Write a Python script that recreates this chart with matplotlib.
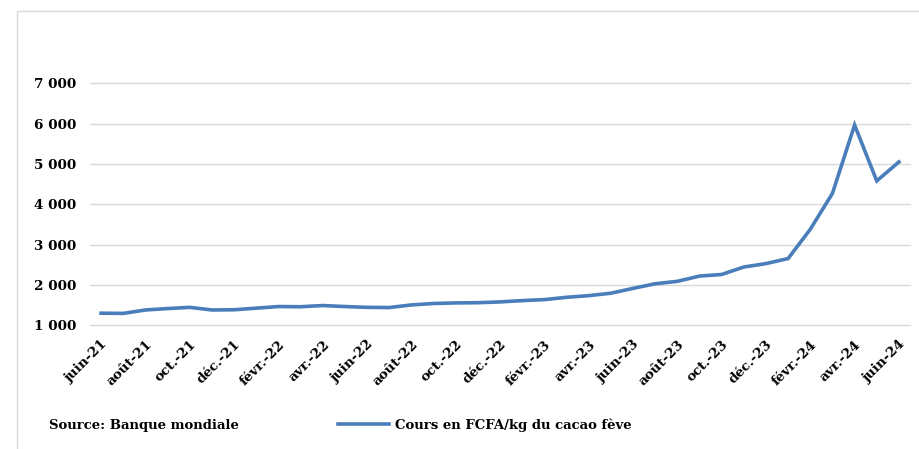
import matplotlib
matplotlib.use("Agg")
import matplotlib.pyplot as plt
from matplotlib.patches import Rectangle
from matplotlib.ticker import FuncFormatter, FixedLocator

# ── Data ──────────────────────────────────────────────────────────────────────
months = [
    "juin-21", "juil.-21", "août-21", "sept.-21", "oct.-21", "nov.-21", "déc.-21",
    "janv.-22", "févr.-22", "mars-22", "avr.-22", "mai-22", "juin-22", "juil.-22",
    "août-22", "sept.-22", "oct.-22", "nov.-22", "déc.-22", "janv.-23", "févr.-23",
    "mars-23", "avr.-23", "mai-23", "juin-23", "juil.-23", "août-23", "sept.-23",
    "oct.-23", "nov.-23", "déc.-23", "janv.-24", "févr.-24", "mars-24", "avr.-24",
    "mai-24", "juin-24",
]
cours = [
    1300, 1295, 1380, 1415, 1445, 1380, 1385,
    1425, 1465, 1460, 1490, 1465, 1445, 1440,
    1505, 1540, 1555, 1560, 1580, 1612, 1637,
    1694, 1735, 1795, 1915, 2030, 2090, 2220,
    2260, 2445, 2530, 2655, 3380, 4270, 5965,
    4580, 5050,
]
y_ticks = [1000, 2000, 3000, 4000, 5000, 6000, 7000]

SERIES_LABEL = "Cours en FCFA/kg du cacao fève"
SOURCE = "Source: Banque mondiale"

# ── Style ─────────────────────────────────────────────────────────────────────
BLUE = "#4a7ebb"
GRID = "#d9d9d9"
W, H = 919, 449
plt.rcParams.update({
    "font.family": "DejaVu Serif",
    "font.weight": "bold",
    "font.size": 9.7,
})

fig = plt.figure(figsize=(W / 100, H / 100), dpi=100)

# outer chart frame (light grey, runs off the right/bottom edges)
fig.patches.append(Rectangle((17 / W, -0.05), 1.1, 1 - 11 / H + 0.05,
                             transform=fig.transFigure, fill=False,
                             edgecolor=GRID, linewidth=1.0))

left, right = 90 / W, 910 / W
bottom, top = 1 - 325.3 / H, 1 - 83.3 / H
ax = fig.add_axes([left, bottom, right - left, top - bottom])

x = list(range(len(months)))
ax.plot(x, cours, color=BLUE, linewidth=2.6, solid_joinstyle="miter",
        label=SERIES_LABEL, zorder=3)

ax.set_xlim(-0.5, len(months) - 0.5)
ax.set_ylim(y_ticks[0], y_ticks[-1])
ax.yaxis.set_major_locator(FixedLocator(y_ticks))
ax.yaxis.set_major_formatter(FuncFormatter(lambda v, _: f"{int(v):,}".replace(",", " ")))
ax.grid(axis="y", color=GRID, linewidth=1.0)
ax.set_axisbelow(True)
for gl in ax.get_ygridlines():
    gl.set_clip_on(False)
for s in ax.spines.values():
    s.set_visible(False)

ax.set_xticks(x[::2])
ax.set_xticklabels(months[::2], rotation=45, ha="right", rotation_mode="anchor")
ax.tick_params(axis="x", length=0, pad=9)
ax.tick_params(axis="y", length=0, pad=10)

fig.text(49 / W, 1 - 425 / H, SOURCE, ha="left", va="center",
         fontsize=9.5, fontweight="bold")
fig.legend(loc="center left", bbox_to_anchor=(338 / W, 1 - 425 / H),
           frameon=False, handlelength=3.9, handletextpad=0.45,
           borderpad=0, borderaxespad=0, prop={"weight": "bold", "size": 9.5})

fig.savefig("out.png", dpi=100)
